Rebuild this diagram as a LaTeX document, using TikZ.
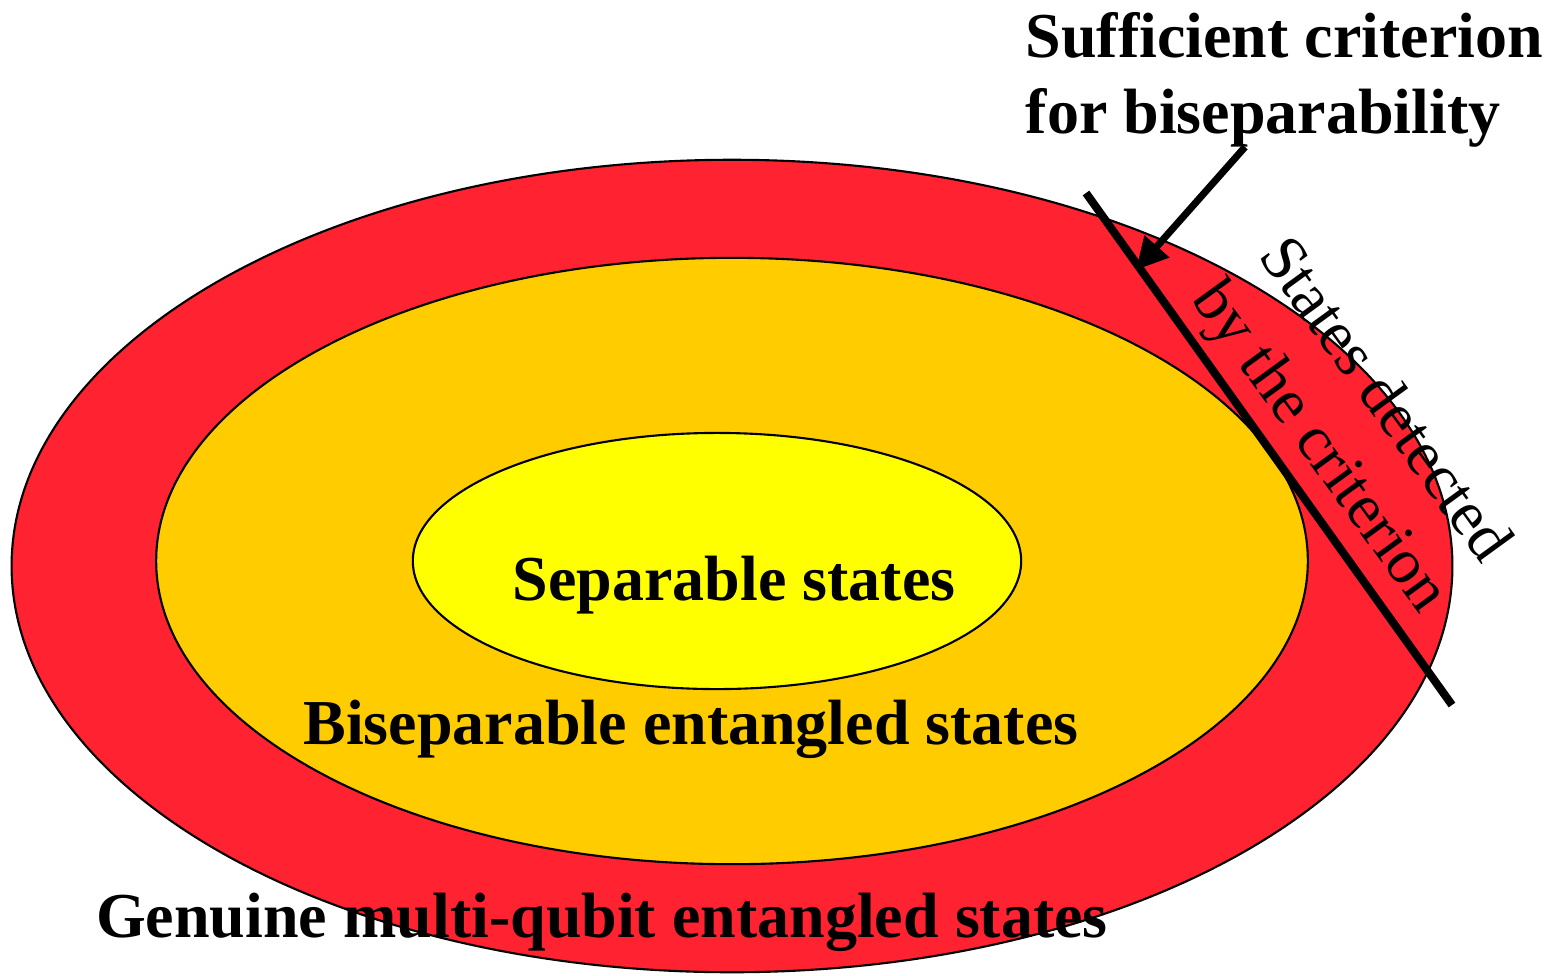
\documentclass[tikz,border=0pt]{standalone}
\usepackage{fontspec}
\setmainfont{Liberation Serif}
\usetikzlibrary{arrows.meta, shapes.geometric}

\definecolor{genred}{RGB}{255,34,48}
\definecolor{bisepgold}{RGB}{255,204,0}
\definecolor{sepyellow}{RGB}{255,255,0}

\begin{document}
\begin{tikzpicture}[
        x=0.01cm, y=-0.01cm,
        region/.style={draw, ellipse, line width=0.6pt, inner sep=0pt},
        setname/.style={font=\fontsize{18.2}{21.6}\selectfont\bfseries,
                        inner sep=0pt, anchor=base},
        remark/.style={font=\fontsize{18.2}{22.5}\selectfont, inner sep=0pt,
                       align=center, rotate=-54},
        arrow/.style={-{Triangle[length=9pt, width=9pt]}, line width=2pt}
    ]
        \useasboundingbox (0,0) rectangle (1551,975);

        % nested sets
        \node[region, fill=genred, minimum width=14.4cm, minimum height=8.12cm] (genuine) at (732,566) {};
        \node[region, fill=bisepgold, minimum width=11.51cm, minimum height=6.06cm] (bisep) at (732,561) {};
        \node[region, fill=sepyellow, minimum width=6.08cm, minimum height=2.56cm] (sep) at (717,561) {};

        \node[setname] (septext) at (734,600) {Separable states};
        \node[setname] (biseptext) at (691,744) {Biseparable entangled states};
        \node[setname] (genuinetext) at (602,937) {Genuine multi-qubit entangled states};

        % criterion
        \coordinate (cutstart) at (1086,193);
        \coordinate (cutend) at (1452,705);
        \draw[line width=2.3pt] (cutstart) -- (cutend);
        \node[remark] (detected) at (1350,425) {States detected\\by the criterion};

        \node[setname, anchor=base west, align=left] (criterion) at (1025,133) {Sufficient criterion\\for biseparability};
        \coordinate (arrowtail) at (1245,147);
        \coordinate (arrowtip) at (1136,270);
        \draw[arrow] (arrowtail) -- (arrowtip);
    \end{tikzpicture}
\end{document}
